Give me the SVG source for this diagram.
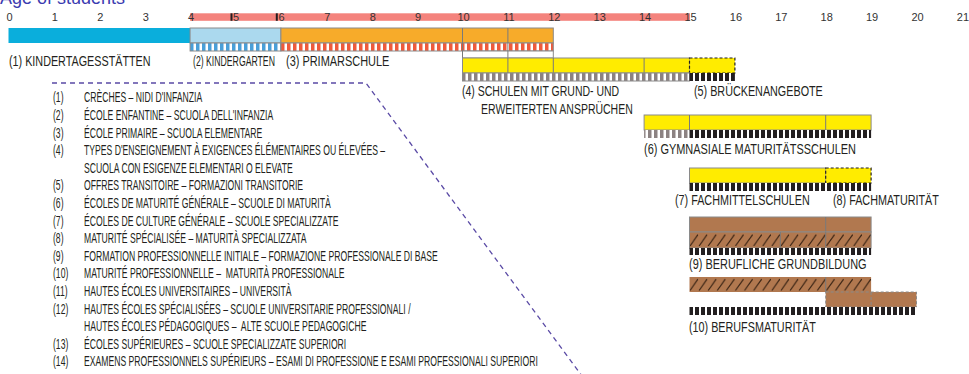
<svg xmlns="http://www.w3.org/2000/svg" width="969" height="374" viewBox="0 0 969 374">
<style>
.tick{font-family:"Liberation Sans",Arial,sans-serif;font-size:11px;fill:#333;text-anchor:middle}
.lbl{font-family:"Liberation Sans",Arial,sans-serif;font-size:15px;fill:#231f20}
.lg{font-family:"Liberation Sans",Arial,sans-serif;font-size:14px;fill:#231f20}
.bd{stroke:#8a8a8a;stroke-width:1}
.dv{stroke:#7a7a7a;stroke-width:1}
.dash{stroke:#231f20;stroke-width:1.2;stroke-dasharray:3 2;fill:none}
.gdash{stroke:#8a8a8a;stroke-width:1;stroke-dasharray:3 2;fill:none}
.yel{fill:#ffec00}
.brn{fill:#b1784f}
</style>
<defs>
<pattern id="pBlue" width="6" height="8" patternUnits="userSpaceOnUse" x="190"><rect width="6" height="8" fill="#fff"/><rect width="3.5" height="8" fill="#4a9fd8"/></pattern>
<pattern id="pRed" width="6" height="8" patternUnits="userSpaceOnUse" x="281"><rect width="6" height="8" fill="#fff"/><rect width="3.5" height="8" fill="#ee5a3c"/></pattern>
<pattern id="pGray" width="6" height="8" patternUnits="userSpaceOnUse" x="462"><rect width="6" height="8" fill="#fff"/><rect width="3.5" height="8" fill="#8c8282"/></pattern>
<pattern id="pBlack" width="6" height="8" patternUnits="userSpaceOnUse" x="689"><rect width="6" height="8" fill="#fff"/><rect width="4" height="8" fill="#231f20"/></pattern>
<pattern id="pH9" width="9.1" height="16" patternUnits="userSpaceOnUse" x="689" y="232"><rect width="9.1" height="16" fill="#b1784f"/><line x1="1" y1="14" x2="9" y2="2.5" stroke="#3b2414" stroke-width="1.2"/></pattern>
<pattern id="pH10" width="9.1" height="15" patternUnits="userSpaceOnUse" x="689" y="277"><rect width="9.1" height="15" fill="#b1784f"/><line x1="1" y1="13.5" x2="9" y2="2" stroke="#3b2414" stroke-width="1.2"/></pattern>
</defs>

<text x="0" y="3.5" font-family="Liberation Sans,Arial,sans-serif" font-size="18" fill="#3b3bb0">Age of students</text>

<g id="axis">
<rect x="190" y="13.3" width="500" height="7.5" fill="#f4837d"/>
<rect x="230.5" y="13.3" width="2" height="7.5" fill="#231f20"/>
<rect x="275.8" y="13.3" width="2" height="7.5" fill="#231f20"/>
<text class="tick" x="9.5" y="20.5">0</text>
<text class="tick" x="54.9" y="20.5">1</text>
<text class="tick" x="100.3" y="20.5">2</text>
<text class="tick" x="145.7" y="20.5">3</text>
<text class="tick" x="191.1" y="20.5">4</text>
<text class="tick" x="236" y="20.5">5</text>
<text class="tick" x="281.5" y="20.5">6</text>
<text class="tick" x="327.3" y="20.5">7</text>
<text class="tick" x="372.7" y="20.5">8</text>
<text class="tick" x="418.1" y="20.5">9</text>
<text class="tick" x="463.5" y="20.5">10</text>
<text class="tick" x="508.9" y="20.5">11</text>
<text class="tick" x="554.3" y="20.5">12</text>
<text class="tick" x="599.7" y="20.5">13</text>
<text class="tick" x="645.1" y="20.5">14</text>
<text class="tick" x="690.5" y="20.5">15</text>
<text class="tick" x="735.9" y="20.5">16</text>
<text class="tick" x="781.3" y="20.5">17</text>
<text class="tick" x="826.7" y="20.5">18</text>
<text class="tick" x="872.1" y="20.5">19</text>
<text class="tick" x="917.5" y="20.5">20</text>
<text class="tick" x="962.9" y="20.5">21</text>
</g>

<g id="kindertagesstaetten">
<rect x="8.5" y="28" width="181.6" height="15" fill="#0aaedc"/>
<text class="lbl" transform="translate(9,66) scale(0.72,1)">(1) KINDERTAGESSTÄTTEN</text>
</g>

<g id="kindergarten">
<rect x="190.1" y="28" width="90.8" height="15" fill="#abd9ee" class="bd"/>
<rect x="190.1" y="43" width="90.8" height="8" fill="url(#pBlue)" class="bd"/>
<text class="lbl" transform="translate(193,66) scale(0.58,1)">(2) KINDERGARTEN</text>
</g>

<g id="primarschule">
<rect x="280.9" y="28" width="272.4" height="15" fill="#f7ab2a" class="bd"/>
<rect x="280.9" y="43" width="272.4" height="8" fill="url(#pRed)" class="bd"/>
<rect x="462.5" y="51" width="90.8" height="7" fill="#fff" class="bd"/>
<line x1="462.5" y1="28" x2="462.5" y2="58" class="dv"/>
<line x1="507.9" y1="28" x2="507.9" y2="58" class="dv"/>
<text class="lbl" transform="translate(286,66) scale(0.73,1)">(3) PRIMARSCHULE</text>
</g>

<g id="sekundarstufe">
<rect x="462.5" y="58" width="227" height="15" class="yel bd"/>
<rect x="689.5" y="58" width="45.4" height="15" class="yel"/>
<rect x="689.5" y="58" width="45.4" height="15" class="dash"/>
<line x1="507.9" y1="58" x2="507.9" y2="73" class="dv"/>
<line x1="553.3" y1="58" x2="553.3" y2="73" class="dv"/>
<line x1="644.1" y1="58" x2="644.1" y2="73" class="dv"/>
<rect x="462.5" y="73" width="227" height="8" fill="url(#pGray)" class="bd"/>
<rect x="689.5" y="73" width="45.4" height="8" fill="url(#pBlack)"/>
<text class="lbl" transform="translate(462,96) scale(0.7,1)">(4) SCHULEN MIT GRUND- UND</text>
<text class="lbl" transform="translate(481,114) scale(0.7,1)">ERWEITERTEN ANSPRÜCHEN</text>
</g>

<g id="brueckenangebote">
<text class="lbl" transform="translate(694,96) scale(0.72,1)">(5) BRÜCKENANGEBOTE</text>
</g>

<g id="gymnasium">
<rect x="644.1" y="115" width="227" height="15" class="yel bd"/>
<line x1="689.5" y1="115" x2="689.5" y2="130" class="dv"/>
<line x1="825.7" y1="115" x2="825.7" y2="130" class="dv"/>
<rect x="644.1" y="130" width="45.4" height="8" fill="url(#pGray)"/>
<rect x="689.5" y="130" width="181.6" height="8" fill="url(#pBlack)"/>
<text class="lbl" transform="translate(644,154) scale(0.73,1)">(6) GYMNASIALE MATURITÄTSSCHULEN</text>
</g>

<g id="fachmittelschulen">
<rect x="689.5" y="168" width="136.2" height="15" class="yel bd"/>
<rect x="825.7" y="168" width="45.4" height="15" class="yel"/>
<rect x="825.7" y="168" width="45.4" height="15" class="dash"/>
<rect x="689.5" y="183" width="181.6" height="8" fill="url(#pBlack)"/>
<text class="lbl" transform="translate(675,205) scale(0.72,1)">(7) FACHMITTELSCHULEN</text>
<text class="lbl" transform="translate(833,205) scale(0.72,1)">(8) FACHMATURITÄT</text>
</g>

<g id="berufliche-grundbildung">
<rect x="689.5" y="217" width="181.6" height="15" class="brn bd"/>
<line x1="825.7" y1="217" x2="825.7" y2="232" class="dv"/>
<rect x="689.5" y="232" width="181.6" height="16" fill="url(#pH9)" class="bd"/>
<line x1="780.3" y1="232" x2="780.3" y2="248" class="dv"/>
<line x1="825.7" y1="232" x2="825.7" y2="248" class="dv"/>
<rect x="689.5" y="248" width="181.6" height="7" fill="url(#pBlack)"/>
<text class="lbl" transform="translate(689,269) scale(0.73,1)">(9) BERUFLICHE GRUNDBILDUNG</text>
</g>

<g id="berufsmaturitaet">
<rect x="689.5" y="277" width="181.6" height="15" fill="url(#pH10)"/>
<line x1="825.7" y1="277" x2="825.7" y2="292" class="dv"/>
<rect x="825.7" y="292" width="90.8" height="15" class="brn"/>
<rect x="825.7" y="292" width="90.8" height="15" class="gdash"/>
<line x1="871.1" y1="292" x2="871.1" y2="307" class="gdash"/>
<rect x="689.5" y="307" width="227" height="8" fill="url(#pBlack)"/>
<text class="lbl" transform="translate(689,332) scale(0.72,1)">(10) BERUFSMATURITÄT</text>
</g>

<g id="connectors">
<path d="M52 83 H366 L582 376" fill="none" stroke="#5a4aa5" stroke-width="1.3" stroke-dasharray="5 4"/>
</g>

<g id="legend">
<g transform="translate(53,0) scale(0.617,1)">
<text class="lg" y="102.5">(1)</text>
<text class="lg" y="120.1">(2)</text>
<text class="lg" y="137.7">(3)</text>
<text class="lg" y="155.3">(4)</text>
<text class="lg" y="190.5">(5)</text>
<text class="lg" y="208.1">(6)</text>
<text class="lg" y="225.7">(7)</text>
<text class="lg" y="243.3">(8)</text>
<text class="lg" y="260.9">(9)</text>
<text class="lg" y="278.5">(10)</text>
<text class="lg" y="296.1">(11)</text>
<text class="lg" y="313.7">(12)</text>
<text class="lg" y="348.9">(13)</text>
<text class="lg" y="366.5">(14)</text>
</g>
<g transform="translate(84,0) scale(0.617,1)">
<text class="lg" y="102.5">CRÈCHES – NIDI D'INFANZIA</text>
<text class="lg" y="120.1">ÉCOLE ENFANTINE – SCUOLA DELL'INFANZIA</text>
<text class="lg" y="137.7">ÉCOLE PRIMAIRE – SCUOLA ELEMENTARE</text>
<text class="lg" y="155.3">TYPES D'ENSEIGNEMENT À EXIGENCES ÉLÉMENTAIRES OU ÉLEVÉES –</text>
<text class="lg" y="172.9">SCUOLA CON ESIGENZE ELEMENTARI O ELEVATE</text>
<text class="lg" y="190.5">OFFRES TRANSITOIRE – FORMAZIONI TRANSITORIE</text>
<text class="lg" y="208.1">ÉCOLES DE MATURITÉ GÉNÉRALE – SCUOLE DI MATURITÀ</text>
<text class="lg" y="225.7">ÉCOLES DE CULTURE GÉNÉRALE – SCUOLE SPECIALIZZATE</text>
<text class="lg" y="243.3">MATURITÉ SPÉCIALISÉE – MATURITÀ SPECIALIZZATA</text>
<text class="lg" y="260.9">FORMATION PROFESSIONNELLE INITIALE – FORMAZIONE PROFESSIONALE DI BASE</text>
<text class="lg" y="278.5" xml:space="preserve">MATURITÉ PROFESSIONNELLE –  MATURITÀ PROFESSIONALE</text>
<text class="lg" y="296.1">HAUTES ÉCOLES UNIVERSITAIRES – UNIVERSITÀ</text>
<text class="lg" y="313.7">HAUTES ÉCOLES SPÉCIALISÉES – SCUOLE UNIVERSITARIE PROFESSIONALI /</text>
<text class="lg" y="331.3" xml:space="preserve">HAUTES ÉCOLES PÉDAGOGIQUES –  ALTE SCUOLE PEDAGOGICHE</text>
<text class="lg" y="348.9">ÉCOLES SUPÉRIEURES – SCUOLE SPECIALIZZATE SUPERIORI</text>
<text class="lg" y="366.5">EXAMENS PROFESSIONNELS SUPÉRIEURS – ESAMI DI PROFESSIONE E ESAMI PROFESSIONALI SUPERIORI</text>
</g>
</g>
</svg>
